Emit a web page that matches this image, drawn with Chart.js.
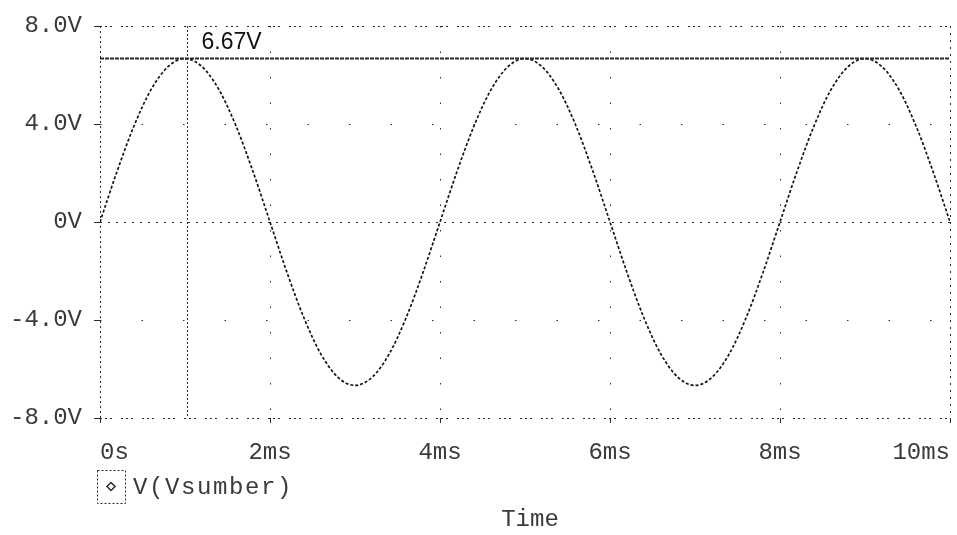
<!DOCTYPE html>
<html>
<head>
<meta charset="utf-8">
<title>V(Vsumber)</title>
<script src="https://cdn.jsdelivr.net/npm/chart.js@4.4.1/dist/chart.umd.min.js"></script>
<style>
    html, body { margin: 0; padding: 0; background: #ffffff; }
    #wrap { width: 957px; height: 535px; }
</style>
</head>
<body>
<div id="wrap"><canvas id="chart-container" width="957" height="535"></canvas></div>
<script>
// Время, мс
const times = [
    0, 0.2, 0.4, 0.6, 0.8, 1.0, 1.2, 1.4, 1.6, 1.8,
    2.0, 2.2, 2.4, 2.6, 2.8, 3.0, 3.2, 3.4, 3.6, 3.8,
    4.0, 4.2, 4.4, 4.6, 4.8, 5.0, 5.2, 5.4, 5.6, 5.8,
    6.0, 6.2, 6.4, 6.6, 6.8, 7.0, 7.2, 7.4, 7.6, 7.8,
    8.0, 8.2, 8.4, 8.6, 8.8, 9.0, 9.2, 9.4, 9.6, 9.8,
    10.0
];

// Напряжение V(Vsumber), В
const volts = [
    0, 2.06, 3.92, 5.40, 6.34, 6.67, 6.34, 5.40, 3.92, 2.06,
    0, -2.06, -3.92, -5.40, -6.34, -6.67, -6.34, -5.40, -3.92, -2.06,
    0, 2.06, 3.92, 5.40, 6.34, 6.67, 6.34, 5.40, 3.92, 2.06,
    0, -2.06, -3.92, -5.40, -6.34, -6.67, -6.34, -5.40, -3.92, -2.06,
    0, 2.06, 3.92, 5.40, 6.34, 6.67, 6.34, 5.40, 3.92, 2.06,
    0
];

// Деления осей
const xTicks = [0, 2, 4, 6, 8, 10];
const xTickLabels = ['0s', '2ms', '4ms', '6ms', '8ms', '10ms'];
const yTicks = [-8, -4, 0, 4, 8];
const yTickLabels = ['-8.0V', '-4.0V', '0V', '4.0V', '8.0V'];

// Положение курсора
const cursorTime = 1.02;
const cursorValue = 6.67;

const seriesName = 'V(Vsumber)';
const axisTitle = 'Time';

const monoFont = '"Liberation Mono", "DejaVu Sans Mono", monospace';
const inkColor = '#2a2a2a';
const textColor = '#3a3a3a';

// Курсоры, легенда и подпись оси
const overlayPlugin = {
    id: 'cursorOverlay',
    afterDatasetsDraw(chart) {
        const { ctx, chartArea: a, scales: { x, y } } = chart;
        const cx = Math.round(x.getPixelForValue(cursorTime)) + 0.5;
        const cy = y.getPixelForValue(cursorValue);

        ctx.save();
        ctx.strokeStyle = inkColor;

        // вертикальный курсор
        ctx.lineWidth = 1;
        ctx.setLineDash([2, 2]);
        ctx.beginPath();
        ctx.moveTo(cx, a.top);
        ctx.lineTo(cx, a.bottom);
        ctx.stroke();

        // горизонтальный курсор
        ctx.lineWidth = 2;
        ctx.setLineDash([4, 1]);
        ctx.beginPath();
        ctx.moveTo(a.left, cy);
        ctx.lineTo(a.right, cy);
        ctx.stroke();

        // значение курсора
        ctx.setLineDash([]);
        ctx.fillStyle = '#111111';
        ctx.font = '23px "Liberation Sans", Arial, sans-serif';
        ctx.textAlign = 'left';
        ctx.textBaseline = 'alphabetic';
        ctx.fillText(cursorValue.toFixed(2) + 'V', cx + 14, cy - 10);
        ctx.restore();
    },
    afterDraw(chart) {
        const { ctx, chartArea: a } = chart;
        ctx.save();

        // легенда
        const bx = 97, by = 470, bw = 28, bh = 33;
        ctx.strokeStyle = inkColor;
        ctx.lineWidth = 1;
        ctx.setLineDash([2, 2]);
        ctx.strokeRect(bx + 0.5, by + 0.5, bw, bh);
        ctx.setLineDash([]);
        ctx.lineWidth = 1.5;
        const mx = bx + bw / 2, my = by + bh / 2;
        ctx.beginPath();
        ctx.moveTo(mx, my - 4);
        ctx.lineTo(mx + 4, my);
        ctx.lineTo(mx, my + 4);
        ctx.lineTo(mx - 4, my);
        ctx.closePath();
        ctx.stroke();

        ctx.fillStyle = textColor;
        ctx.font = '24px ' + monoFont;
        ctx.textAlign = 'left';
        ctx.textBaseline = 'middle';
        ctx.letterSpacing = '1.6px';
        ctx.fillText(chart.data.datasets[0].label, bx + bw + 8, my + 1);
        ctx.letterSpacing = '0px';

        // подпись оси X
        ctx.textAlign = 'center';
        ctx.fillText(axisTitle, (a.left + a.right) / 2 + 5, 520);
        ctx.restore();
    }
};

// Пунктир сетки: рамка, нулевая линия и редкие точки
function xGridDash(c) {
    const v = c.tick ? c.tick.value : null;
    if (v === 0) return [2, 3];
    if (v === 10) return [2, 5];
    return [1.5, 24];
}

function yGridDash(c) {
    const v = c.tick ? c.tick.value : null;
    if (v === 8 || v === -8) return [2, 3, 2, 3, 2, 9];
    if (v === 0) return [2, 6];
    return [1.5, 40];
}

const ctx = document.getElementById('chart-container').getContext('2d');
const sineChart = new Chart(ctx, {
    type: 'line',
    data: {
        datasets: [{
            label: seriesName,
            data: times.map((t, i) => ({ x: t, y: volts[i] })),
            borderColor: '#151515',
            borderWidth: 1.7,
            borderDash: [3, 2],
            pointRadius: 0,
            cubicInterpolationMode: 'monotone',
            fill: false
        }]
    },
    options: {
        responsive: false,
        devicePixelRatio: 1,
        animation: false,
        layout: {
            padding: { top: 26, right: 7, left: 0, bottom: 0 }
        },
        scales: {
            x: {
                type: 'linear',
                min: 0,
                max: 10,
                afterBuildTicks: s => { s.ticks = xTicks.map(v => ({ value: v })); },
                afterFit: s => { s.height = 117; s.paddingLeft = 0; s.paddingRight = 0; },
                // в v4 пунктир линий сетки задаётся через border.dash
                border: { display: false, dash: xGridDash },
                grid: {
                    color: inkColor,
                    lineWidth: 1,
                    tickLength: 5,
                    tickColor: inkColor,
                    tickWidth: 1,
                    tickBorderDash: []
                },
                ticks: {
                    autoSkip: false,
                    maxRotation: 0,
                    align: 'inner',
                    padding: 18,
                    color: textColor,
                    font: { family: monoFont, size: 24, lineHeight: 1 },
                    callback: v => xTickLabels[xTicks.indexOf(v)]
                }
            },
            y: {
                type: 'linear',
                min: -8,
                max: 8,
                afterBuildTicks: s => { s.ticks = yTicks.map(v => ({ value: v })); },
                afterFit: s => { s.width = 100; s.paddingTop = 0; s.paddingBottom = 0; },
                border: { display: false, dash: yGridDash },
                grid: {
                    color: inkColor,
                    lineWidth: 1,
                    tickLength: 6,
                    tickColor: inkColor,
                    tickWidth: 1,
                    tickBorderDash: []
                },
                ticks: {
                    autoSkip: false,
                    padding: 12,
                    color: textColor,
                    font: { family: monoFont, size: 24, lineHeight: 1 },
                    callback: v => yTickLabels[yTicks.indexOf(v)]
                }
            }
        },
        plugins: {
            legend: { display: false },
            tooltip: { enabled: false }
        }
    },
    plugins: [overlayPlugin]
});
</script>
</body>
</html>
